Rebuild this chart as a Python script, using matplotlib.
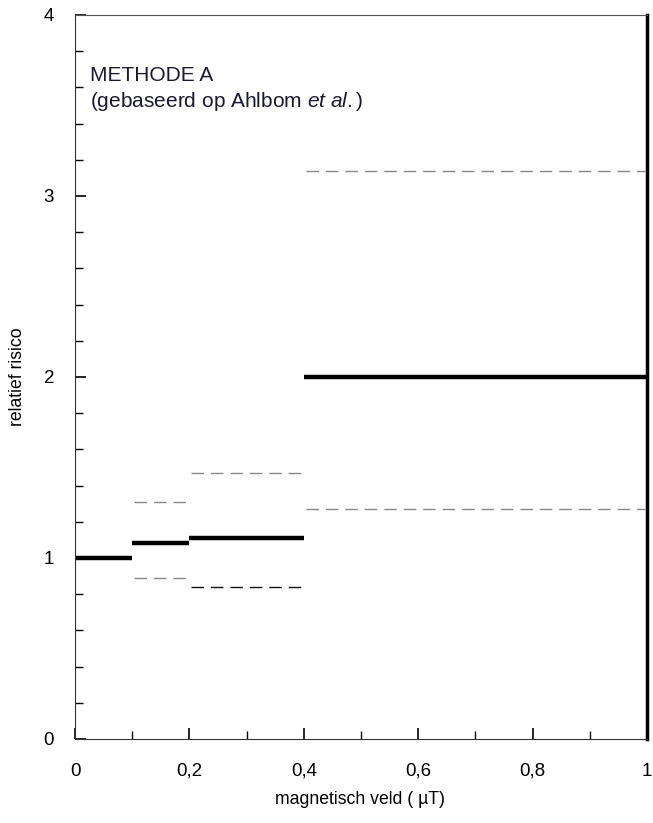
import matplotlib
matplotlib.use("Agg")
import matplotlib.pyplot as plt
from matplotlib.ticker import MultipleLocator

plt.rcParams['font.family'] = ['Liberation Sans', 'DejaVu Sans']
plt.rcParams['mathtext.fontset'] = 'custom'
plt.rcParams['mathtext.rm'] = 'Liberation Sans'
plt.rcParams['mathtext.it'] = 'Liberation Sans:italic'

# klassen magnetisch veld (uT) en relatief risico met betrouwbaarheidsinterval
x_start = [0.0, 0.1, 0.2, 0.4]
x_end = [0.1, 0.2, 0.4, 1.0]
rr = [1.00, 1.08, 1.11, 2.00]
ci_low = [None, 0.89, 0.84, 1.27]
ci_high = [None, 1.31, 1.47, 3.14]
ci_low_color = [None, '#888888', '#111111', '#888888']

fig = plt.figure(figsize=(6.53, 8.23), dpi=100)
ax = fig.add_axes([0.1149, 0.1021, 0.8759, 0.8797])

for i in range(len(rr)):
    ax.hlines(rr[i], x_start[i], x_end[i], colors='black', linewidth=3.2)
    if ci_low[i] is not None:
        ax.hlines(ci_low[i], x_start[i] + 0.003, x_end[i] - 0.004, colors=ci_low_color[i],
                  linewidth=1.0, linestyles=(0, (9, 5)))
        ax.hlines(ci_high[i], x_start[i] + 0.003, x_end[i] - 0.004, colors='#888888',
                  linewidth=1.0, linestyles=(0, (9, 5)))

ax.set_xlim(0, 1)
ax.set_ylim(0, 4)
ax.xaxis.set_minor_locator(MultipleLocator(0.1))
ax.yaxis.set_minor_locator(MultipleLocator(0.2))
ax.set_xticks([0, 0.2, 0.4, 0.6, 0.8, 1.0])
ax.set_xticklabels(['0', '0,2', '0,4', '0,6', '0,8', '1'])
ax.set_yticks([0, 1, 2, 3, 4])
ax.set_yticklabels(['0', '1', '2', '3', '4'])

ax.tick_params(which='both', direction='in', top=False, right=False, labelsize=13.5)
ax.tick_params(which='major', length=8, width=1.2)
ax.tick_params(which='minor', length=6, width=1)
ax.tick_params(axis='x', which='major', pad=17)
ax.tick_params(axis='y', which='major', pad=15)

ax.spines['left'].set_color('#333333')
ax.spines['bottom'].set_color('#333333')
ax.spines['top'].set_color('#555555')
ax.spines['right'].set_linewidth(2.5)
ax.spines['right'].set_color('black')

# aslabels op vaste plek in de figuur
fig.text(0.552, 1 - 800 / 823, 'magnetisch veld ( \u00b5T)', fontsize=12.7,
         ha='center', va='center')
fig.text(18 / 653, 1 - 377 / 823, 'relatief risico', fontsize=12.7,
         rotation=90, ha='center', va='center')

ax.text(0.027, 0.917, 'METHODE A', transform=ax.transAxes, fontsize=15,
        color='#1a1a2e', va='center')
ax.text(0.027, 0.881, '(gebaseerd op Ahlbom $\\mathit{et\\ al.}$)', transform=ax.transAxes,
        fontsize=15, color='#1a1a2e', va='center')

fig.savefig('out.png', dpi=100)
